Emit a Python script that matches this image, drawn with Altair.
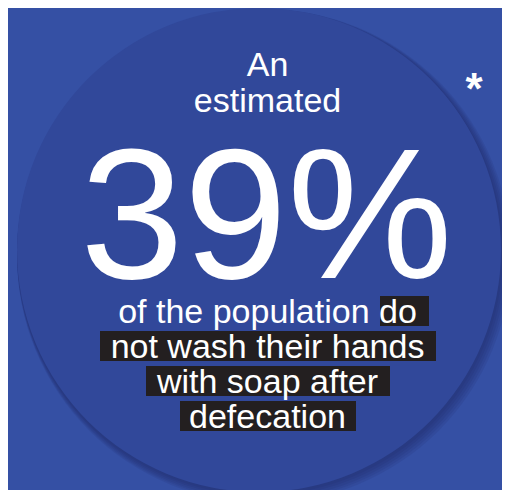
import altair as alt
import pandas as pd

# ---- content ----
headline_lines = ["An", "estimated"]
big_value = 39
body_lines = ["of the population do", "not wash their hands", "with soap after", "defecation"]
highlight_words = ["do", "not wash their hands", "with soap after", "defecation"]
highlight_line = [0, 1, 2, 3]
footnote_mark = "*"

# ---- layout (chart pixel coordinates = page pixel - 8) ----
W, H = 494, 482
CX, CY, R = 251, 242, 242
TEXT_X = 259.5
FONT = "Liberation Sans"
BG = "#3550A4"
DISC = "#31489A"
BOX = "#231F20"
box_x0 = [372, 92, 138, 172]
box_x1 = [421, 428, 382, 348]
box_top = [288, 323, 358, 393]
BOX_H = 30

line_scale = alt.Scale(domain=[0, 3], range=[315, 420])
head_scale = alt.Scale(domain=[0, 1], range=[68, 104])

base = alt.Chart(pd.DataFrame({"k": [0]}))

# soft shadow rings
shadow_df = pd.DataFrame({"step": [1, 2, 3, 4, 5]})
shadow_df["x"] = CX + shadow_df["step"]
shadow_df["y"] = CY + shadow_df["step"] + 1
shadow_df["size"] = (2 * (R + shadow_df["step"])) ** 2
shadow = alt.Chart(shadow_df).mark_circle(color="#1c2a66", opacity=0.13).encode(
    x=alt.X("x:Q", scale=None),
    y=alt.Y("y:Q", scale=None),
    size=alt.Size("size:Q", scale=None, legend=None),
)

disc = base.mark_circle(color=DISC, opacity=1, size=(2 * R) ** 2).encode(
    x=alt.value(CX), y=alt.value(CY)
)

head_df = pd.DataFrame({"text": headline_lines, "i": range(len(headline_lines))})
head = alt.Chart(head_df).mark_text(
    font=FONT, fontSize=34, color="white", align="center", baseline="alphabetic"
).encode(
    x=alt.value(TEXT_X),
    y=alt.Y("i:Q", scale=head_scale, axis=None),
    text="text:N",
)

big_df = pd.DataFrame({"v": [big_value]})
big = alt.Chart(big_df).transform_calculate(
    label="datum.v + '%'"
).mark_text(
    font=FONT, fontSize=186, color="white", align="center", baseline="alphabetic"
).encode(
    x=alt.value(TEXT_X - 1), y=alt.value(270), text="label:N"
)

box_df = pd.DataFrame({
    "word": highlight_words, "i": highlight_line,
    "x0": box_x0, "x1": box_x1, "top": box_top,
})
box_df["bottom"] = box_df["top"] + BOX_H
boxes = alt.Chart(box_df).mark_rect(color=BOX).encode(
    x=alt.X("x0:Q", scale=None),
    x2="x1:Q",
    y=alt.Y("top:Q", scale=None),
    y2="bottom:Q",
)

body_df = pd.DataFrame({"text": body_lines, "i": range(len(body_lines))})
body = alt.Chart(body_df).mark_text(
    font=FONT, fontSize=34, color="white", align="center", baseline="alphabetic"
).encode(
    x=alt.value(TEXT_X),
    y=alt.Y("i:Q", scale=line_scale, axis=None),
    text="text:N",
)

star = alt.Chart(pd.DataFrame({"t": [footnote_mark]})).mark_text(
    font=FONT, fontSize=44, fontWeight="bold", color="white", align="center", baseline="alphabetic"
).encode(x=alt.value(466), y=alt.value(96), text="t:N")

chart = alt.layer(shadow, disc, boxes, head, big, body, star).resolve_scale(
    x="independent", y="independent", size="independent"
).properties(
    width=W, height=H, autosize=alt.AutoSizeParams(type="none"), padding=0,
    background=BG,
).configure_view(stroke=None)

chart.save("out.html", embed_options={"renderer": "svg", "actions": False})
